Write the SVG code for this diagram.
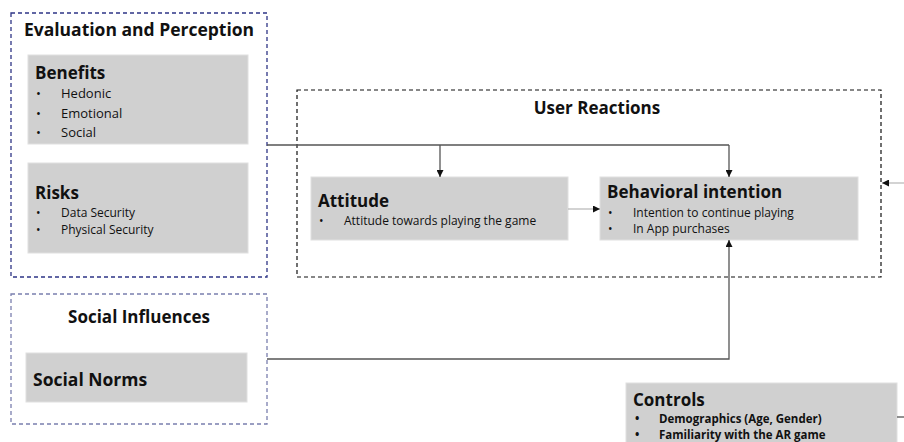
<svg xmlns="http://www.w3.org/2000/svg" width="904" height="442" viewBox="0 0 904 442">
<style>
text{font-family:"Open Sans","Liberation Sans",sans-serif;fill:#111}
.h{font-weight:bold;font-size:17px}
.t{font-weight:bold;font-size:17px}
.b{font-size:13px}
.s{font-size:12px}
.cb{font-size:11.5px;font-weight:bold}
.box{fill:#d0d0d0;stroke:#e0e0e0;stroke-width:1}
.grp{fill:none;stroke:#2e3586;stroke-width:1.3;stroke-dasharray:4 3}
.grp2{fill:none;stroke:#7a7fae;stroke-width:1.3;stroke-dasharray:4 3}
.ur{fill:none;stroke:#111;stroke-width:1.2;stroke-dasharray:4 3}
.c{fill:none;stroke:#555;stroke-width:1.3}
.cl{fill:none;stroke:#bbb;stroke-width:1.3}
</style>
<defs>
<marker id="ah" viewBox="0 0 10 10" refX="10" refY="5" markerWidth="7" markerHeight="7" markerUnits="userSpaceOnUse" orient="auto"><path d="M0,0L10,5L0,10z" fill="#111"/></marker>
</defs>
<rect width="904" height="442" fill="#fff"/>
<g id="eval">
<rect class="grp" x="11" y="13" width="256" height="264"/>
<text class="t" x="139" y="36" text-anchor="middle" style="font-size:17.5px">Evaluation and Perception</text>
</g>
<g id="benefits">
<rect class="box" x="28" y="55" width="220" height="89"/>
<text class="h" x="35" y="79">Benefits</text>
<text class="b" x="36" y="98">•</text><text class="b" x="61" y="98">Hedonic</text>
<text class="b" x="36" y="118">•</text><text class="b" x="61" y="118">Emotional</text>
<text class="b" x="36" y="137">•</text><text class="b" x="61" y="137">Social</text>
</g>
<g id="risks">
<rect class="box" x="28" y="163" width="220" height="90"/>
<text class="h" x="35" y="199">Risks</text>
<text class="s" x="36" y="217">•</text><text class="s" x="61" y="217">Data Security</text>
<text class="s" x="36" y="234">•</text><text class="s" x="61" y="234">Physical Security</text>
</g>
<g id="social">
<rect class="grp2" x="11" y="294" width="256" height="130"/>
<text class="t" x="139" y="323" text-anchor="middle">Social Influences</text>
</g>
<g id="norms">
<rect class="box" x="26" y="353" width="221" height="49"/>
<text class="t" x="33" y="386" style="font-size:17.5px">Social Norms</text>
</g>
<g id="reactions">
<rect class="ur" x="297" y="90" width="584" height="187"/>
<text class="t" x="597" y="114" text-anchor="middle">User Reactions</text>
</g>
<g id="attitude">
<rect class="box" x="311" y="177" width="257" height="63"/>
<text class="h" x="318" y="207">Attitude</text>
<text class="s" x="319" y="225">•</text><text class="s" x="344" y="225">Attitude towards playing the game</text>
</g>
<g id="intention">
<rect class="box" x="600" y="177" width="258" height="63"/>
<text class="h" x="607" y="198">Behavioral intention</text>
<text class="s" x="608" y="217">•</text><text class="s" x="633" y="217">Intention to continue playing</text>
<text class="s" x="608" y="233">•</text><text class="s" x="633" y="233">In App purchases</text>
</g>
<g id="controls">
<rect class="box" x="626" y="383" width="271" height="70"/>
<text class="h" x="633" y="406">Controls</text>
<text class="cb" x="635" y="423">•</text><text class="cb" x="659" y="423">Demographics (Age, Gender)</text>
<text class="cb" x="635" y="439">•</text><text class="cb" x="659" y="439">Familiarity with the AR game</text>
</g>
<g id="connectors">
<path class="c" d="M267,145H729"/>
<path class="c" d="M440,145V177" marker-end="url(#ah)"/>
<path class="c" d="M729,145V177" marker-end="url(#ah)"/>
<path class="cl" d="M568,209H600" marker-end="url(#ah)"/>
<path class="c" d="M267,359H729V240" marker-end="url(#ah)"/>
<path class="cl" d="M904,183H882" marker-end="url(#ah)"/>
<path class="c" d="M897,417H904"/>
</g>
</svg>
